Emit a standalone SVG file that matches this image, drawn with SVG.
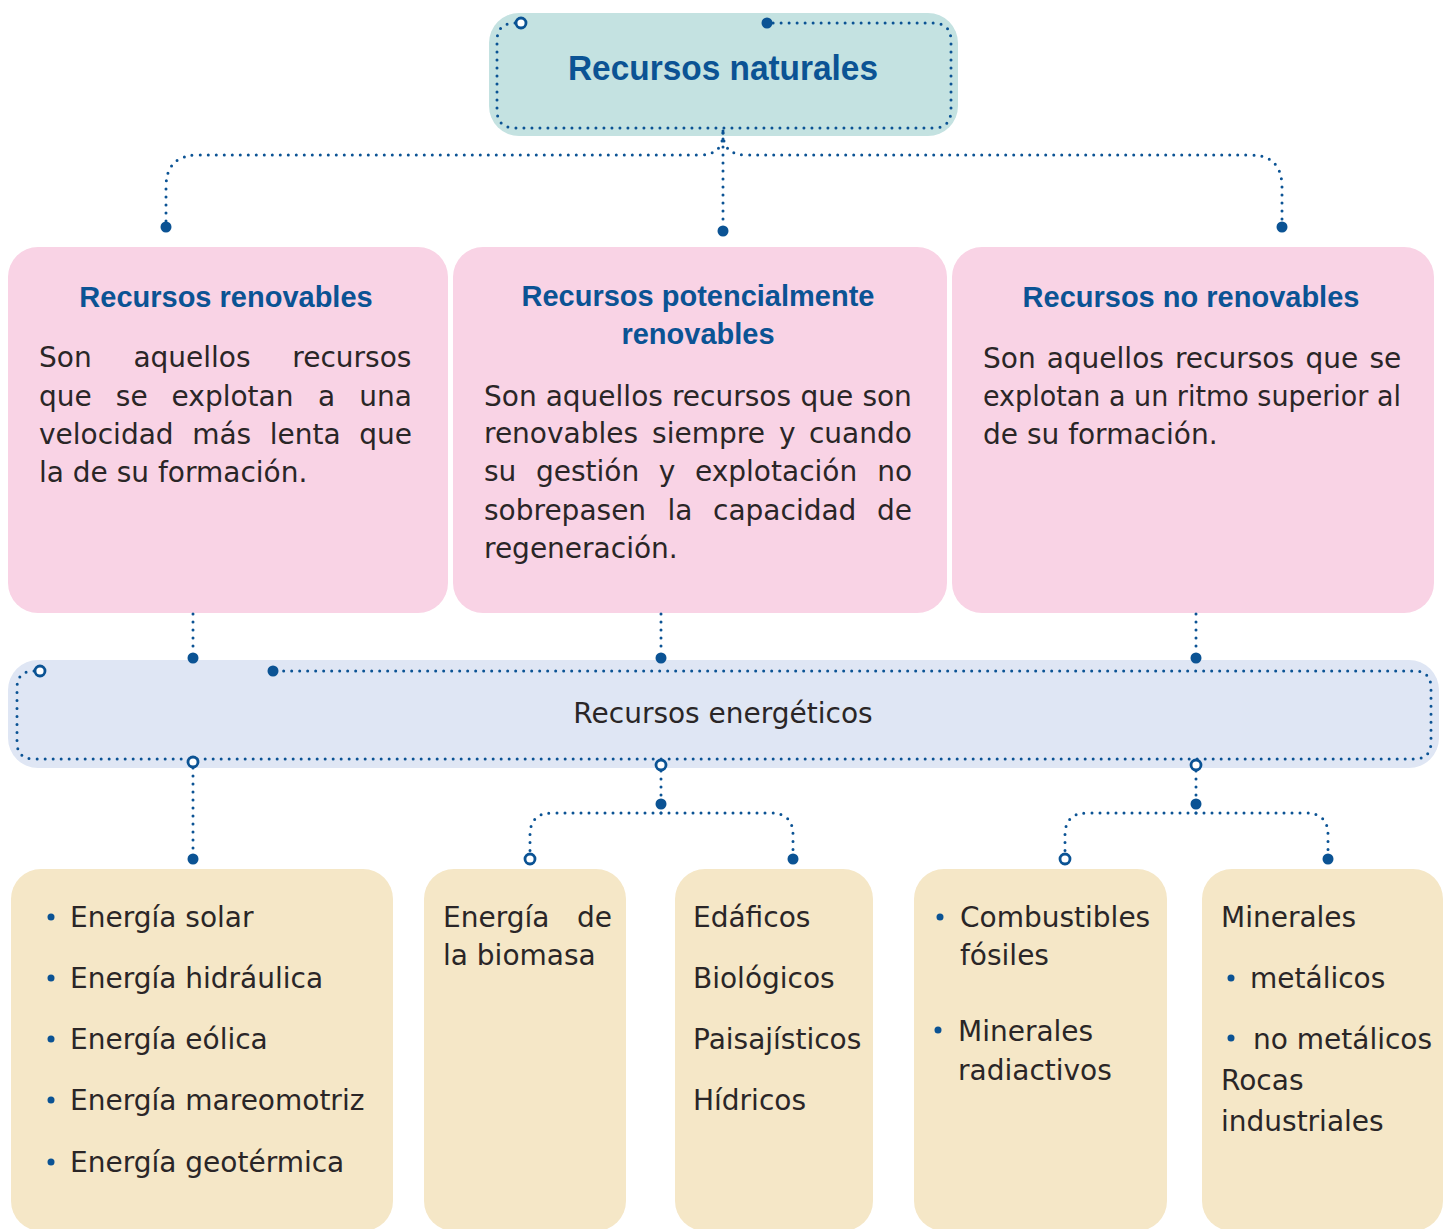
<svg xmlns="http://www.w3.org/2000/svg" width="1449" height="1229" viewBox="0 0 1449 1229">
<style>
.dot{fill:none;stroke:#0b5394;stroke-width:3;stroke-linecap:round;stroke-dasharray:0 8}
.fd{fill:#0b5394}
.od{fill:#ffffff;stroke:#0b5394;stroke-width:2.8}
.ttl{font-family:"Liberation Sans",Arial,sans-serif;font-weight:bold;font-size:29px;fill:#0b5394;text-anchor:middle}
.body{font-family:"DejaVu Sans",Verdana,sans-serif;font-size:28px;fill:#2a2627}
.bul{fill:#0b5394}
.pink{fill:#f9d3e5}
.beige{fill:#f5e7c7}
</style>
<rect width="1449" height="1229" fill="#ffffff"/>

<g id="recursos-naturales">
<rect x="489" y="13" width="469" height="123" rx="30" fill="#c4e2e1"/>
<path class="dot" d="M515,23 Q497,23 497,41 L497,110 Q497,128 515,128 L933,128 Q951,128 951,110 L951,41 Q951,23 933,23 L767,23"/>
<circle class="od" cx="521" cy="23" r="5"/>
<circle class="fd" cx="767" cy="23" r="5.5"/>
<text x="723" y="80" class="ttl" style="font-size:35px" textLength="310" lengthAdjust="spacingAndGlyphs">Recursos naturales</text>
</g>

<g id="recursos-renovables">
<rect class="pink" x="8" y="247" width="440" height="366" rx="30"/>
<text x="226" y="307" class="ttl">Recursos renovables</text>
<text class="body" y="367"><tspan x="39">Son</tspan><tspan x="133.4">aquellos</tspan><tspan x="292.3">recursos</tspan></text>
<text class="body" y="406"><tspan x="39">que</tspan><tspan x="115.8">se</tspan><tspan x="171.6">explotan</tspan><tspan x="318">a</tspan><tspan x="359.2">una</tspan></text>
<text class="body" y="444"><tspan x="39">velocidad</tspan><tspan x="192.2">más</tspan><tspan x="269.8">lenta</tspan><tspan x="359.3">que</tspan></text>
<text class="body" y="482" x="39">la de su formación.</text>
</g>

<g id="recursos-potencialmente-renovables">
<rect class="pink" x="453" y="247" width="494" height="366" rx="30"/>
<text x="698" y="306" class="ttl">Recursos potencialmente</text>
<text x="698" y="344" class="ttl">renovables</text>
<text class="body" y="406"><tspan x="484">Son</tspan><tspan x="545.7">aquellos</tspan><tspan x="671.9">recursos</tspan><tspan x="800.6">que</tspan><tspan x="862.4">son</tspan></text>
<text class="body" y="443"><tspan x="484">renovables</tspan><tspan x="652.1">siempre</tspan><tspan x="778.9">y</tspan><tspan x="808.9">cuando</tspan></text>
<text class="body" y="481"><tspan x="484">su</tspan><tspan x="536">gestión</tspan><tspan x="658.8">y</tspan><tspan x="695">explotación</tspan><tspan x="877.3">no</tspan></text>
<text class="body" y="520"><tspan x="484">sobrepasen</tspan><tspan x="667.4">la</tspan><tspan x="713">capacidad</tspan><tspan x="877.1">de</tspan></text>
<text class="body" y="558" x="484">regeneración.</text>
</g>

<g id="recursos-no-renovables">
<rect class="pink" x="952" y="247" width="482" height="366" rx="30"/>
<text x="1191" y="307" class="ttl">Recursos no renovables</text>
<text class="body" y="368"><tspan x="983">Son</tspan><tspan x="1046.7">aquellos</tspan><tspan x="1174.9">recursos</tspan><tspan x="1305.6">que</tspan><tspan x="1369.4">se</tspan></text>
<text class="body" y="406" x="983" textLength="418" lengthAdjust="spacingAndGlyphs">explotan a un ritmo superior al</text>
<text class="body" y="444" x="983">de su formación.</text>
</g>

<g id="recursos-energeticos">
<rect x="8" y="660" width="1431" height="108" rx="30" fill="#dfe6f4"/>
<path class="dot" d="M34,671 Q17,671 17,688 L17,742 Q17,759 34,759 L1414,759 Q1431,759 1431,742 L1431,688 Q1431,671 1414,671 L273,671"/>
<circle class="od" cx="40" cy="671" r="5"/>
<circle class="fd" cx="273" cy="671" r="5.5"/>
<text x="723" y="723" class="body" text-anchor="middle">Recursos energéticos</text>
</g>

<g id="energias">
<rect class="beige" x="11" y="869" width="382" height="362" rx="30"/>
<circle class="bul" cx="51" cy="917" r="3.5"/>
<circle class="bul" cx="51" cy="978" r="3.5"/>
<circle class="bul" cx="51" cy="1039" r="3.5"/>
<circle class="bul" cx="51" cy="1100" r="3.5"/>
<circle class="bul" cx="51" cy="1162" r="3.5"/>
<text class="body" x="70" y="927">Energía solar</text>
<text class="body" x="70" y="988">Energía hidráulica</text>
<text class="body" x="70" y="1049">Energía eólica</text>
<text class="body" x="70" y="1110">Energía mareomotriz</text>
<text class="body" x="70" y="1172">Energía geotérmica</text>
</g>

<g id="biomasa">
<rect class="beige" x="424" y="869" width="202" height="362" rx="30"/>
<text class="body" y="927"><tspan x="443">Energía</tspan><tspan x="577">de</tspan></text>
<text class="body" x="443" y="965">la biomasa</text>
</g>

<g id="otros">
<rect class="beige" x="675" y="869" width="198" height="362" rx="30"/>
<text class="body" x="693" y="927">Edáficos</text>
<text class="body" x="693" y="988">Biológicos</text>
<text class="body" x="693" y="1049">Paisajísticos</text>
<text class="body" x="693" y="1110">Hídricos</text>
</g>

<g id="combustibles">
<rect class="beige" x="914" y="869" width="253" height="362" rx="30"/>
<circle class="bul" cx="940" cy="917" r="3.5"/>
<circle class="bul" cx="938" cy="1030" r="3.5"/>
<text class="body" x="960" y="927">Combustibles</text>
<text class="body" x="960" y="965">fósiles</text>
<text class="body" x="958" y="1041">Minerales</text>
<text class="body" x="958" y="1080">radiactivos</text>
</g>

<g id="minerales">
<rect class="beige" x="1202" y="869" width="241" height="362" rx="30"/>
<circle class="bul" cx="1231" cy="978" r="3.5"/>
<circle class="bul" cx="1231" cy="1038" r="3.5"/>
<text class="body" x="1221" y="927">Minerales</text>
<text class="body" x="1250" y="988">metálicos</text>
<text class="body" x="1253" y="1049">no metálicos</text>
<text class="body" x="1221" y="1090">Rocas</text>
<text class="body" x="1221" y="1131">industriales</text>
</g>

<g id="connectors">
<path class="dot" d="M723,131 L723,227"/>
<path class="dot" d="M723,133 Q723,155 700,155 L198,155 Q166,155 166,187 L166,223"/>
<path class="dot" d="M723,133 Q723,155 746,155 L1250,155 Q1282,155 1282,187 L1282,223"/>
<circle class="fd" cx="723" cy="231" r="5.5"/>
<circle class="fd" cx="166" cy="227" r="5.5"/>
<circle class="fd" cx="1282" cy="227" r="5.5"/>

<path class="dot" d="M193,614 L193,654"/>
<path class="dot" d="M661,614 L661,654"/>
<path class="dot" d="M1196,614 L1196,654"/>
<circle class="fd" cx="193" cy="658" r="5.5"/>
<circle class="fd" cx="661" cy="658" r="5.5"/>
<circle class="fd" cx="1196" cy="658" r="5.5"/>

<path class="dot" d="M193,768 L193,855"/>
<circle class="od" cx="193" cy="762" r="5"/>
<circle class="fd" cx="193" cy="859" r="5.5"/>

<path class="dot" d="M661,771 L661,800"/>
<path class="dot" d="M661,813 L552,813 Q530,813 530,835 L530,853"/>
<path class="dot" d="M661,813 L771,813 Q793,813 793,835 L793,855"/>
<circle class="od" cx="661" cy="765" r="5"/>
<circle class="fd" cx="661" cy="804" r="5.5"/>
<circle class="od" cx="530" cy="859" r="5"/>
<circle class="fd" cx="793" cy="859" r="5.5"/>

<path class="dot" d="M1196,771 L1196,800"/>
<path class="dot" d="M1196,813 L1087,813 Q1065,813 1065,835 L1065,853"/>
<path class="dot" d="M1196,813 L1306,813 Q1328,813 1328,835 L1328,855"/>
<circle class="od" cx="1196" cy="765" r="5"/>
<circle class="fd" cx="1196" cy="804" r="5.5"/>
<circle class="od" cx="1065" cy="859" r="5"/>
<circle class="fd" cx="1328" cy="859" r="5.5"/>
</g>
</svg>
